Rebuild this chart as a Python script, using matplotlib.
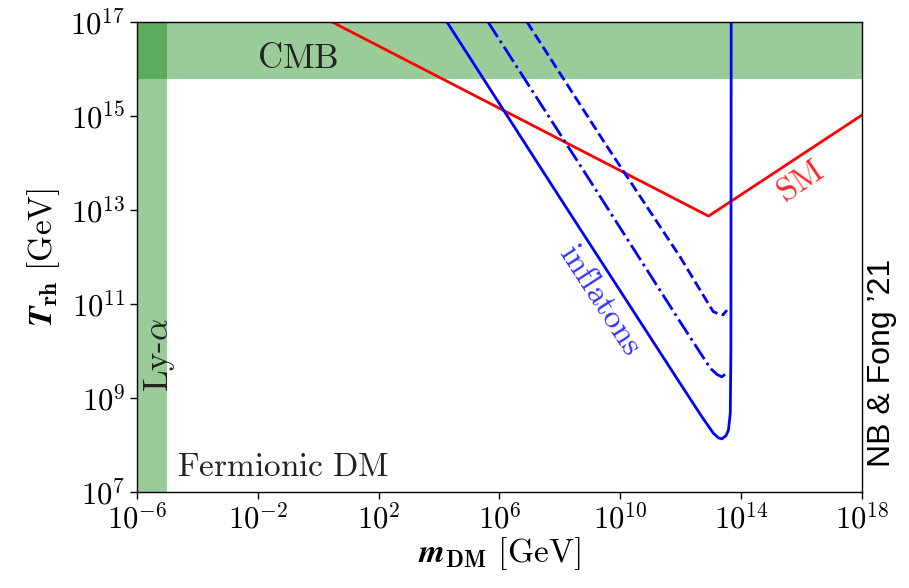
import numpy as np
import matplotlib
matplotlib.use("Agg")
import matplotlib.pyplot as plt
from matplotlib.ticker import FuncFormatter

plt.rcParams["mathtext.fontset"] = "cm"
plt.rcParams["font.family"] = ["DejaVu Serif"]

# Reheating temperature vs dark-matter mass (log10 values)
sm_logm = [0.457, 12.92, 18.0]
sm_logT = [17.0, 12.87, 15.02]

infl_solid_logm = [4.26, 8.0, 11.98, 12.7, 13.08, 13.25, 13.36, 13.5, 13.58, 13.64, 13.66, 13.67]
infl_solid_logT = [17.0, 13.26, 9.31, 8.6, 8.25, 8.15, 8.13, 8.2, 8.32, 8.68, 10.0, 17.0]

infl_dashdot_logm = [5.62, 9.0, 11.98, 12.97, 13.2, 13.36, 13.52]
infl_dashdot_logT = [17.0, 13.62, 10.62, 9.64, 9.5, 9.45, 9.53]

infl_dashed_logm = [6.91, 9.5, 11.98, 13.07, 13.25, 13.4, 13.53]
infl_dashed_logT = [17.0, 14.41, 12.0, 10.84, 10.79, 10.77, 10.87]

cmb_limit = 6.2e15      # T_rh upper bound
lya_limit = 1e-5        # m_DM lower bound

xticks = [1e-6, 1e-2, 1e2, 1e6, 1e10, 1e14, 1e18]
yticks = [1e7, 1e9, 1e11, 1e13, 1e15, 1e17]

fig = plt.figure(figsize=(9.09, 5.88), dpi=100)
ax = fig.add_axes([0.1507, 0.1633, 0.7976, 0.7993])
ax.set_xscale("log")
ax.set_yscale("log")
ax.set_xlim(1e-6, 1e18)
ax.set_ylim(1e7, 1e17)

# Excluded regions
ax.axhspan(cmb_limit, 1e18, color="green", alpha=0.4, lw=0)
ax.axvspan(1e-8, lya_limit, color="green", alpha=0.4, lw=0)

p = lambda v: 10 ** np.asarray(v)
ax.plot(p(sm_logm), p(sm_logT), color="red", lw=2)
ax.plot(p(infl_solid_logm), p(infl_solid_logT), color="blue", lw=2)
ax.plot(p(infl_dashdot_logm), p(infl_dashdot_logT), color="blue", lw=2, ls="-.")
ax.plot(p(infl_dashed_logm), p(infl_dashed_logT), color="blue", lw=2, ls="--")

pow10 = FuncFormatter(lambda v, pos: r"$10^{%d}$" % int(round(np.log10(v))))
ax.set_xticks(xticks)
ax.set_yticks(yticks)
ax.xaxis.set_major_formatter(pow10)
ax.yaxis.set_major_formatter(pow10)
ax.minorticks_off()
ax.tick_params(labelsize=22, length=5, width=1, direction="out")
ax.tick_params(axis="x", pad=4)
for s in ax.spines.values():
    s.set_linewidth(1)

ax.set_xlabel(r"$\mathbfit{m}_{\mathbf{DM}}\ [\mathrm{GeV}]$", fontsize=24, labelpad=0)
ax.set_ylabel(r"$\mathbfit{T}_{\mathbf{rh}}\ [\mathrm{GeV}]$", fontsize=24, labelpad=6)

ax.text(10 ** -0.67, 10 ** 16.23, r"$\mathrm{CMB}$", fontsize=25, ha="center", va="center", color="#222222")
ax.text(10 ** -5.27, 10 ** 9.91, r"$\mathrm{Ly\text{-}}\alpha$", fontsize=25, ha="center", va="center",
        rotation=90, color="#222222")
ax.text(10 ** -1.17, 10 ** 7.53, r"$\mathrm{Fermionic\ DM}$", fontsize=24, ha="center", va="center",
        color="#222222")
ax.text(10 ** 9.33, 10 ** 11.09, r"$\mathrm{inflatons}$", fontsize=24, ha="center", va="center",
        rotation=-57, color="blue", alpha=0.8)
ax.text(10 ** 15.95, 10 ** 13.6, r"$\mathrm{SM}$", fontsize=24, ha="center", va="center",
        rotation=34, color="red", alpha=0.85)

fig.text(0.97, 0.383, "NB & Fong ’21", fontsize=23, ha="center", va="center", rotation=90,
         family=["Liberation Sans", "DejaVu Sans"])

fig.savefig("out.png", dpi=100)
